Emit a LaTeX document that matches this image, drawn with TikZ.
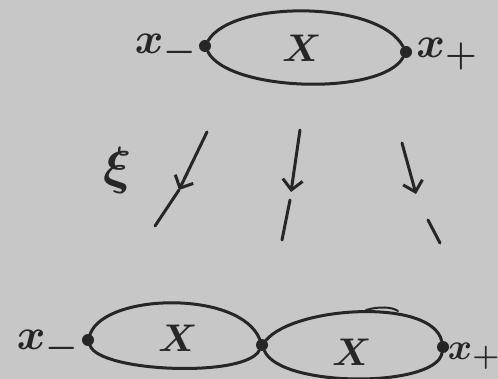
\documentclass[tikz,border=0pt]{standalone}
\usetikzlibrary{arrows.meta,calc}
\begin{document}
\begin{tikzpicture}[x=1pt,y=-1pt,
  ink/.style={draw=black!85,line width=3pt,line cap=round,line join=round},
  pt/.style={circle,fill=black!85,inner sep=0pt,minimum size=12pt},
  lab/.style={text=black!85,font=\Huge\boldmath,inner sep=0pt,scale=1.75},
  big/.style={text=black!85,font=\Huge\boldmath,inner sep=0pt,scale=1.55},
  arr/.style={ink,-{Straight Barb[length=10pt,width=20pt,line width=3pt]}}]
\fill[black!22] (0,0) rectangle (498,379);
\useasboundingbox (0,0) rectangle (498,379);
% top
\node[pt] (ta) at (205,46) {};
\node[pt] (tb) at (406,52) {};
\draw[ink] (ta) .. controls (232,0) and (378,0) .. (tb);
\draw[ink] (tb) .. controls (382,96) and (228,92) .. (ta);
\node[big] (tx) at (302,48) {$X$};
\node[lab] (tl) at (166,50) {$x_-$};
\node[lab] (tr) at (447,54) {$x_+$};
% arrows
\node[lab,scale=1.2] (xi) at (118,170) {$\xi$};
\coordinate (a1s) at (207,132);
\coordinate (a1t) at (179,190);
\coordinate (a1e) at (155,226);
\draw[arr] (a1s) -- (a1t);
\draw[ink] (a1t) -- (a1e);
\coordinate (a2s) at (300,130);
\coordinate (a2t) at (291,192);
\coordinate (a2u) at (290,200);
\coordinate (a2e) at (282,240);
\draw[arr] (a2s) -- (a2t);
\draw[ink] (a2u) -- (a2e);
\coordinate (a3s) at (402,143);
\coordinate (a3t) at (416,194);
\coordinate (a3u) at (428,220);
\coordinate (a3e) at (440,243);
\draw[arr] (a3s) -- (a3t);
\draw[ink] (a3u) -- (a3e);
% bottom
\node[pt] (bl) at (88,340) {};
\node[pt] (bm) at (262,345) {};
\node[pt] (br) at (443,347) {};
\draw[ink] (bl) .. controls (105,293) and (240,290) .. (bm);
\draw[ink] (bm) .. controls (245,378) and (100,372) .. (bl);
\draw[ink] (bm) .. controls (295,306) and (432,298) .. (br);
\draw[ink] (br) .. controls (436,388) and (280,388) .. (bm);
\draw[ink,line width=2pt] (366,310) .. controls (380,306) and (392,307) .. (398,311);
\node[big] (bx1) at (178,338) {$X$};
\node[big] (bx2) at (352,352) {$X$};
\node[lab] (bxl) at (48,346) {$x_-$};
\node[lab,scale=0.85] (bxr) at (474,356) {$x_+$};
\end{tikzpicture}
\end{document}
